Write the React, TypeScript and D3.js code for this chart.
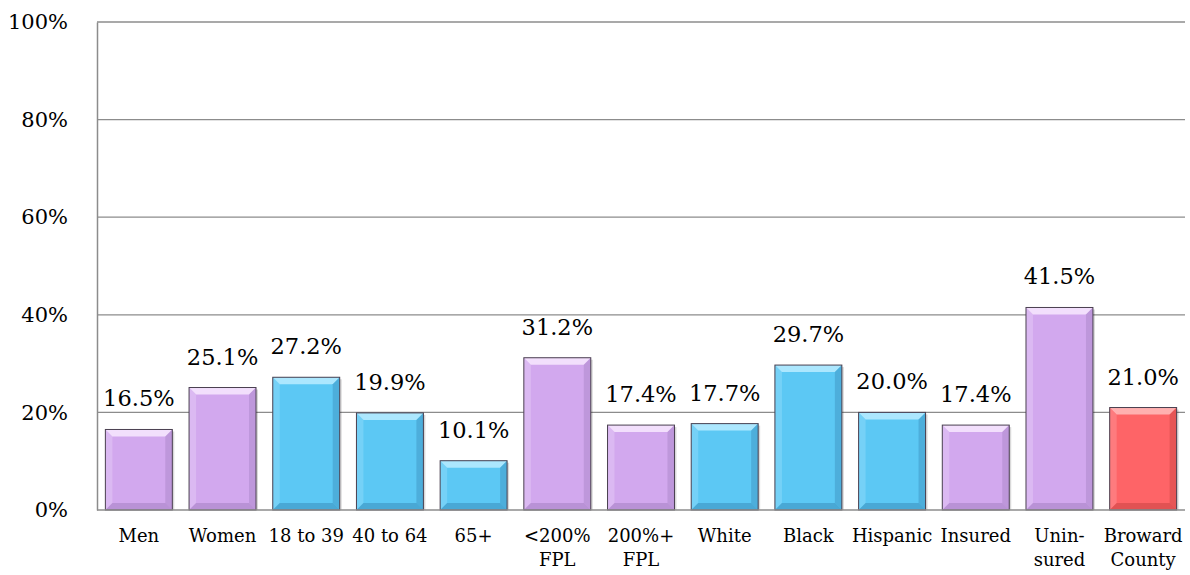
import React, { useEffect, useRef } from "react";
import * as d3 from "d3";

const categories = [
  "Men", "Women", "18 to 39", "40 to 64", "65+", "<200% FPL", "200%+ FPL",
  "White", "Black", "Hispanic", "Insured", "Unin- sured", "Broward County",
];
const values = [16.5, 25.1, 27.2, 19.9, 10.1, 31.2, 17.4, 17.7, 29.7, 20.0, 17.4, 41.5, 21.0];
const groups = ["p", "p", "b", "b", "b", "p", "p", "b", "b", "b", "p", "p", "r"];
const yTicks = [0, 20, 40, 60, 80, 100];

const palette: Record<string, { base: string; light: string; dark: string }> = {
  p: { base: "#d2a8ee", light: "#f3e2fc", dark: "#a07cbe" },
  b: { base: "#5cc8f4", light: "#b0e9fe", dark: "#3688b6" },
  r: { base: "#fe6467", light: "#ffb4b4", dark: "#c4403f" },
};

const App: React.FC = () => {
  const ref = useRef<SVGSVGElement | null>(null);

  useEffect(() => {
    const svg = d3.select(ref.current);
    svg.selectAll("*").remove();

    const W = 1190, H = 575;
    const left = 97, right = 1185, top = 22, bottom = 510;
    const font = "'DejaVu Serif', serif";

    const x = d3.scaleBand().domain(categories).range([left, right]).paddingInner(0.2).paddingOuter(0.1);
    const y = d3.scaleLinear().domain([0, 100]).range([bottom, top]);

    // gridlines
    svg.append("g")
      .selectAll("line")
      .data(yTicks.slice(1))
      .join("line")
      .attr("x1", left).attr("x2", right)
      .attr("y1", (d) => y(d)).attr("y2", (d) => y(d))
      .attr("stroke", "#8c8c8c").attr("stroke-width", 1.3);

    // y axis
    const ya = svg.append("g").attr("transform", `translate(${left},0)`)
      .call(d3.axisLeft(y).tickValues(yTicks).tickSize(0).tickPadding(29).tickFormat((d) => `${d}%`));
    ya.select(".domain").attr("stroke", "#8c8c8c").attr("stroke-width", 1.5);
    ya.selectAll("text").style("font-family", font).style("font-size", "21px").attr("fill", "#000");

    // bars
    const bw = x.bandwidth();
    const bev = 7;
    const bars = svg.append("g").selectAll("g").data(categories).join("g")
      .attr("transform", (c) => `translate(${x(c)},0)`);

    bars.each(function (c, i) {
      const g = d3.select(this);
      const col = palette[groups[i]];
      const y0 = y(values[i]);
      const h = bottom - y0;
      // shadow
      g.append("rect").attr("x", 2).attr("y", y0 + 2).attr("width", bw).attr("height", h - 2)
        .attr("fill", "#000").attr("opacity", 0.15);
      g.append("rect").attr("x", 0).attr("y", y0).attr("width", bw).attr("height", h).attr("fill", col.base);
      const poly = (pts: number[][], fill: string, op: number) =>
        g.append("polygon").attr("points", pts.map((p) => p.join(",")).join(" ")).attr("fill", fill).attr("opacity", op);
      poly([[0, y0], [bw, y0], [bw - bev, y0 + bev], [bev, y0 + bev]], col.light, 0.95);
      poly([[0, y0], [bev, y0 + bev], [bev, bottom - bev], [0, bottom]], col.light, 0.3);
      poly([[bw, y0], [bw, bottom], [bw - bev, bottom - bev], [bw - bev, y0 + bev]], col.dark, 0.4);
      poly([[0, bottom], [bev, bottom - bev], [bw - bev, bottom - bev], [bw, bottom]], col.dark, 0.5);
      g.append("rect").attr("x", 0).attr("y", y0).attr("width", bw).attr("height", h)
        .attr("fill", "none").attr("stroke", "#4a4050").attr("stroke-width", 1);
      g.append("text").attr("x", bw / 2).attr("y", y0 - 23)
        .attr("text-anchor", "middle")
        .style("font-family", font).style("font-size", "22.5px")
        .text(`${values[i].toFixed(1)}%`);
    });

    // x axis line
    svg.append("line").attr("x1", left).attr("x2", right).attr("y1", bottom).attr("y2", bottom)
      .attr("stroke", "#8c8c8c").attr("stroke-width", 1.5);

    // category labels
    categories.forEach((c) => {
      const parts = c.split(" ");
      const lines = c === "18 to 39" || c === "40 to 64" ? [c] : parts.length > 1 ? [parts.slice(0, -1).join(" "), parts[parts.length - 1]] : [c];
      const t = svg.append("text")
        .attr("x", x(c)! + bw / 2).attr("y", 542)
        .attr("text-anchor", "middle")
        .style("font-family", font).style("font-size", "18px");
      lines.forEach((l, j) => t.append("tspan").attr("x", x(c)! + bw / 2).attr("dy", j === 0 ? 0 : 24).text(l));
    });

    svg.attr("width", W).attr("height", H);
  }, []);

  return <svg ref={ref} style={{ position: "absolute", left: 0, top: 0, background: "#fff" }} />;
};

export default App;
